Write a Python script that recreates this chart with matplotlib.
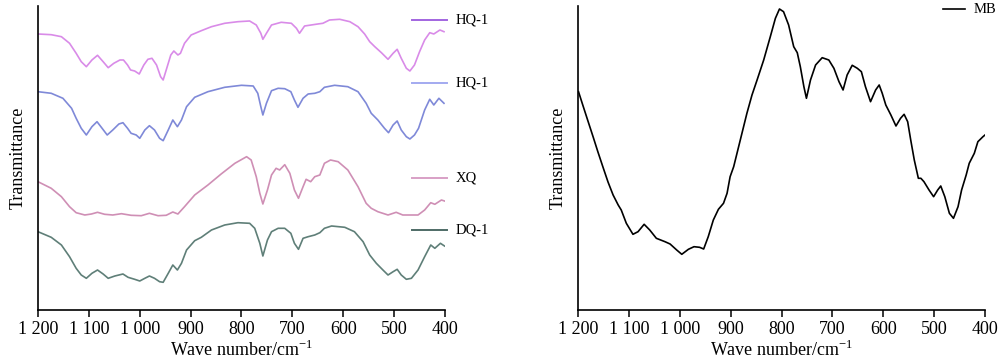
import matplotlib
matplotlib.use("Agg")
import matplotlib.pyplot as plt

plt.rcParams['font.family'] = ['Liberation Serif', 'DejaVu Serif']

# ---- data (wave number / cm-1, transmittance in arbitrary units) ----
hq1a_wave = [1200, 1174, 1154, 1138, 1125, 1115, 1105, 1094, 1083, 1072, 1062, 1051, 1039, 1032, 1024,
             1018, 1010, 1001, 992, 984, 976, 967, 959, 954, 946, 939, 933, 925, 920, 912, 899, 879, 859,
             833, 807, 784, 771, 762, 758, 751, 741, 722, 702, 692, 686, 676, 663, 650, 640, 627, 607,
             587, 571, 558, 548, 538, 525, 512, 502, 494, 486, 476, 469, 460, 450, 440, 430, 422, 410, 402]
hq1a_val = [276, 275.3, 273.3, 266.7, 256.7, 248.3, 243.3, 250, 254.7, 248.3, 242.3, 246.7, 250, 250, 245,
            240, 239, 236, 245, 250.7, 251.7, 245, 233.3, 230, 243.3, 255, 259, 255, 256.7, 266.7, 275,
            279.3, 283.3, 286.7, 288.3, 289, 285, 276.7, 270.7, 276.7, 285, 287.7, 286.7, 281.7, 276.7,
            284, 285, 286, 286.7, 290, 290.7, 288.3, 283.3, 276, 268.3, 263.3, 257.3, 250.7, 256.7, 260.7,
            251.7, 241.7, 239, 245, 258.3, 270, 277.3, 276, 280, 278.3]

hq1b_wave = [1200, 1174, 1151, 1134, 1125, 1115, 1105, 1094, 1084, 1074, 1064, 1053, 1041, 1033, 1024,
             1017, 1007, 1000, 990, 981, 971, 961, 954, 944, 935, 926, 918, 908, 892, 866, 833, 800, 777,
             768, 762, 758, 751, 741, 728, 715, 703, 696, 689, 679, 669, 656, 646, 637, 617, 591, 571,
             555, 545, 532, 519, 511, 502, 494, 486, 476, 469, 460, 452, 440, 430, 422, 412, 402]
hq1b_val = [218.3, 216.7, 211.7, 201.7, 191.7, 181.7, 175, 183.3, 188.3, 181.7, 175, 180, 186, 187.3, 181.7,
            176.7, 175, 171.7, 180, 184.3, 180, 171.7, 169.3, 180, 190, 183.3, 190, 203.3, 212.7, 218.3,
            222.7, 224.7, 224, 216.7, 203.3, 195, 206.7, 219.3, 221.7, 221.3, 218.3, 210, 202.7, 211.7,
            216, 216.7, 218.3, 222.7, 224.7, 223.3, 218.3, 206.7, 196.7, 190, 181.7, 177.3, 185, 189,
            180, 173.3, 171, 175, 181.7, 200, 210.7, 205, 211.7, 206.7]

xq_wave = [1200, 1174, 1154, 1138, 1125, 1108, 1095, 1083, 1069, 1053, 1036, 1017, 997, 981, 964, 948,
           935, 925, 912, 892, 866, 840, 813, 790, 781, 771, 764, 758, 749, 741, 732, 725, 715, 705, 696,
           688, 679, 673, 664, 656, 646, 637, 625, 610, 591, 571, 555, 545, 532, 512, 496, 483, 453, 440,
           428, 420, 407, 401]
xq_val = [128.3, 121.7, 113.3, 103.3, 97.3, 95, 96, 97.7, 95.7, 95, 96.3, 94.7, 94.3, 96.7, 94.3, 94.7,
          98, 96, 103.3, 115, 125, 136, 146.7, 153.3, 150, 133.3, 116.7, 106, 120, 135, 141.7, 140, 145.3,
          136.7, 120, 111.7, 123.3, 130.7, 128.3, 133.3, 135, 146.7, 150, 148.3, 140, 123.3, 106.7, 101.7,
          98.3, 95, 97.7, 95, 95, 100, 107.3, 105.7, 110, 109]

dq1_wave = [1200, 1174, 1154, 1138, 1125, 1115, 1105, 1094, 1083, 1072, 1062, 1049, 1033, 1023, 1010,
            1000, 990, 981, 971, 961, 954, 944, 935, 926, 918, 908, 892, 879, 859, 833, 807, 784, 774,
            764, 758, 749, 741, 728, 715, 703, 696, 688, 679, 669, 656, 646, 637, 623, 597, 578, 561,
            548, 535, 522, 512, 502, 494, 486, 476, 466, 453, 440, 428, 420, 409, 401]
dq1_val = [78.3, 72.7, 65, 53.3, 41.7, 35, 31.7, 36.7, 40, 36, 31.7, 34, 36, 32.7, 30.7, 29, 31.7, 34,
           31.7, 28.3, 27.7, 36.7, 45, 40, 46.7, 60, 69.3, 72.7, 80, 85, 87.3, 86.7, 81.7, 66.7, 54, 70,
           78.3, 81.7, 81.7, 76.7, 66.7, 60.7, 71.7, 73.3, 75, 77.3, 81.7, 84, 82.7, 78.3, 68.3, 55, 46.7,
           40, 35, 38.3, 40.7, 35, 30.7, 31.7, 40, 53.3, 65, 61.7, 66.7, 64]

mb_wave = [1199, 1190, 1180, 1170, 1161, 1151, 1141, 1131, 1121, 1115, 1105, 1092, 1082, 1070, 1059, 1046,
           1029, 1019, 1006, 996, 983, 972, 961, 953, 944, 934, 924, 914, 907, 901, 894, 881, 868, 858,
           848, 835, 822, 812, 804, 796, 786, 776, 769, 763, 756, 751, 743, 733, 720, 707, 697, 687, 679,
           671, 661, 651, 643, 635, 625, 615, 608, 602, 595, 585, 575, 566, 559, 552, 546, 539, 531, 526,
           520, 510, 501, 493, 487, 479, 470, 462, 453, 446, 437, 431, 421, 414, 404, 400]
mb_val = [218.3, 204, 188.3, 172.7, 158.3, 143, 128, 115, 105, 100, 86.7, 75.7, 78.3, 85.7, 80, 71.7, 68.3,
          66, 60, 55.7, 60.7, 63.3, 62.7, 61, 73.3, 90, 100.7, 106.7, 116.7, 133.3, 143.3, 170, 196.7, 215,
          230, 250, 273.3, 291.7, 301, 298.3, 285, 263.3, 257.3, 243.3, 223.3, 211.7, 230, 245, 252.3, 250,
          241.7, 228.3, 220, 235, 244.7, 241.7, 238.3, 223.3, 208.3, 220, 225, 216.7, 205, 195, 184,
          191.7, 195.7, 188.3, 170, 150, 131.7, 131.7, 128.3, 120, 113.3, 120, 124, 113.3, 96.7, 91.7,
          103.3, 120, 135, 146.7, 156.7, 168.3, 173.3, 175]

xticks = [1200, 1100, 1000, 900, 800, 700, 600, 500, 400]
xtick_labels = ['1 200', '1 100', '1 000', '900', '800', '700', '600', '500', '400']

left_series = [
    ('HQ-1', hq1a_wave, hq1a_val, '#d98be8', '#a265e0', 0.954),
    ('HQ-1', hq1b_wave, hq1b_val, '#7f89d8', '#a3aaf0', 0.747),
    ('XQ', xq_wave, xq_val, '#cf8fb5', '#d8a0c6', 0.434),
    ('DQ-1', dq1_wave, dq1_val, '#5f7f78', '#4e6b66', 0.263),
]

fig = plt.figure(figsize=(10, 3.63), dpi=100)
ax1 = fig.add_axes([0.038, 0.146, 0.407, 0.8375])
ax2 = fig.add_axes([0.578, 0.146, 0.407, 0.8375])


def style(ax):
    ax.set_xlim(1200, 400)
    ax.set_ylim(0, 304)
    ax.spines['top'].set_visible(False)
    ax.spines['right'].set_visible(False)
    ax.spines['left'].set_linewidth(1.2)
    ax.spines['bottom'].set_linewidth(1.2)
    ax.set_yticks([])
    ax.set_xticks(xticks)
    ax.set_xticklabels(xtick_labels, fontsize=13)
    ax.tick_params(axis='x', direction='out', length=5, width=1.1, pad=3)
    ax.set_xlabel('Wave number/cm$^{\\mathregular{-1}}$', fontsize=13, labelpad=1)
    ax.set_ylabel('Transmittance', fontsize=13, labelpad=8)


for name, w, v, c, lc, ly in left_series:
    ax1.plot(w, v, color=c, lw=1.2, solid_joinstyle='round')
    ax1.plot([0.919, 1.005], [ly, ly], color=lc, lw=1.4, transform=ax1.transAxes, clip_on=False)
    ax1.text(1.025, ly, name, transform=ax1.transAxes, fontsize=10.5, va='center', ha='left')
style(ax1)

ax2.plot(mb_wave, mb_val, color='black', lw=1.2, solid_joinstyle='round')
ax2.plot([0.897, 0.951], [0.99, 0.99], color='black', lw=1.2, transform=ax2.transAxes, clip_on=False)
ax2.text(0.971, 0.99, 'MB', transform=ax2.transAxes, fontsize=10.5, va='center', ha='left')
style(ax2)

fig.savefig('out.png', dpi=100)
